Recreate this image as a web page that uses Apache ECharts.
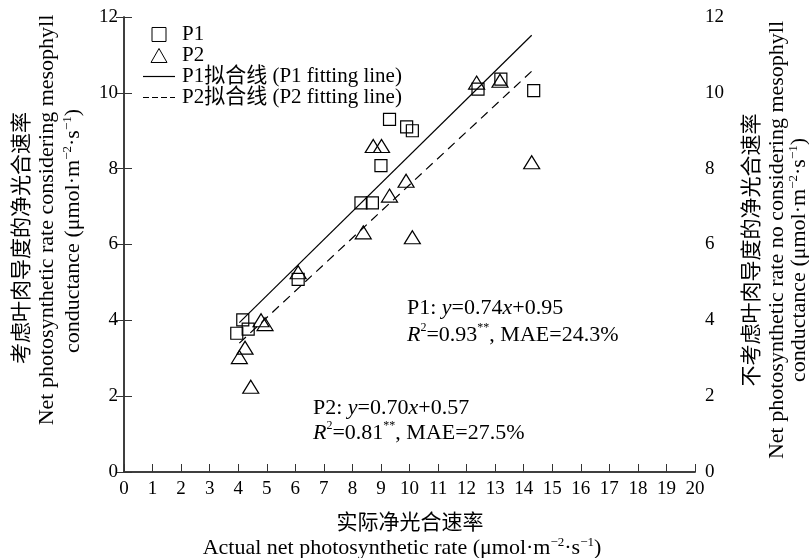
<!DOCTYPE html>
<html>
<head>
<meta charset="utf-8">
<script src="https://cdn.jsdelivr.net/npm/echarts@6/dist/echarts.min.js"></script>
<style>
  html, body { margin: 0; padding: 0; background: #fff; }
  #main { width: 809px; height: 558px; }
</style>
</head>
<body>
<div id="main"></div>
<script>
var p1X = [3.95, 4.16, 4.35, 6.1, 8.3, 8.7, 9.0, 9.3, 9.9, 10.1, 12.4, 13.2, 14.35];
var p1Y = [3.66, 4.01, 3.77, 5.08, 7.1, 7.1, 8.08, 9.3, 9.1, 9.0, 10.1, 10.36, 10.06];
var p2X = [4.04, 4.24, 4.44, 4.8, 4.94, 6.1, 8.38, 8.73, 9.02, 9.3, 9.88, 10.1, 12.35, 13.17, 14.28];
var p2Y = [3.03, 3.28, 2.25, 4.0, 3.9, 5.27, 6.32, 8.6, 8.6, 7.29, 7.68, 6.19, 10.27, 10.32, 8.17];
// 拟合线端点
var fit1X = [4.04, 14.28];
var fit1Y = [3.94, 11.52];
var fit2X = [4.04, 14.28];
var fit2Y = [3.40, 10.57];
var legendNames = ['P1', 'P2', 'P1拟合线 (P1 fitting line)', 'P2拟合线 (P2 fitting line)'];

function pairs(xs, ys) {
    var out = [];
    for (var i = 0; i < xs.length; i++) out.push([xs[i], ys[i]]);
    return out;
}

var serif = "'Liberation Serif', 'Times New Roman', 'Noto Sans CJK SC', serif";
var rich = {
    n: { fontSize: 22, fontFamily: serif, lineHeight: 26 },
    i: { fontSize: 22, fontFamily: serif, fontStyle: 'italic', lineHeight: 26 },
    s: { fontSize: 12, fontFamily: serif, verticalAlign: 'top', lineHeight: 12 },
    t: { fontSize: 22, fontFamily: serif, lineHeight: 24 },
    c: { fontSize: 21, fontFamily: serif, lineHeight: 24 },
    ts: { fontSize: 13, fontFamily: serif, verticalAlign: 'top', lineHeight: 13 }
};

function txt(x, y, text, rot, align) {
    return {
        type: 'text',
        x: x, y: y,
        rotation: rot || 0,
        style: {
            text: text, rich: rich, fill: '#000',
            align: align || 'center', verticalAlign: 'middle',
            fontFamily: serif, fontSize: 20
        }
    };
}

var axisCol = '#333';
var myChart = echarts.init(document.getElementById('main'));
var option = {
    animation: false,
    backgroundColor: '#fff',
    grid: { left: 124, right: 114, top: 17, bottom: 86 },
    legend: {
        orient: 'vertical',
        left: 138, top: 19,
        itemWidth: 32, itemHeight: 14, itemGap: 0,
        textStyle: { fontSize: 21, fontFamily: serif, color: '#000', padding: [0, 0, 0, 2] },
        data: [
            { name: legendNames[0], icon: 'path://M0,0H10V10H0Z', itemStyle: { color: '#fff', borderColor: '#000', borderWidth: 1 } },
            { name: legendNames[1], icon: 'path://M8,0L16,14L0,14Z', itemStyle: { color: '#fff', borderColor: '#000', borderWidth: 1 } },
            { name: legendNames[2], icon: 'path://M0,0H32V1.2H0Z', itemStyle: { color: '#000', borderWidth: 0 } },
            { name: legendNames[3], icon: 'path://M0,0H6V1.2H0Z M9,0H15V1.2H9Z M18,0H24V1.2H18Z M27,0H32V1.2H27Z', itemStyle: { color: '#000', borderWidth: 0 } }
        ]
    },
    xAxis: [{
        type: 'value', min: 0, max: 20, interval: 1,
        axisLine: { lineStyle: { color: axisCol, width: 1.5 } },
        axisTick: { inside: true, length: 8, lineStyle: { color: axisCol } },
        axisLabel: { fontSize: 19, fontFamily: serif, color: '#000', margin: 8 },
        splitLine: { show: false }
    }, {
        type: 'value', min: 0, max: 20, position: 'top',
        axisLine: { show: true, lineStyle: { color: axisCol, width: 1.5 } },
        axisTick: { show: false }, axisLabel: { show: false }, splitLine: { show: false }
    }],
    yAxis: [{
        type: 'value', min: 0, max: 12, interval: 2,
        axisLine: { show: true, lineStyle: { color: axisCol, width: 1.5 } },
        axisTick: { show: true, inside: true, length: 8, lineStyle: { color: axisCol } },
        axisLabel: { fontSize: 19, fontFamily: serif, color: '#000', margin: 6 },
        splitLine: { show: false }
    }, {
        type: 'value', min: 0, max: 12, interval: 2, position: 'right',
        axisLine: { show: true, lineStyle: { color: axisCol, width: 1.5 } },
        axisTick: { show: true, inside: true, length: 8, lineStyle: { color: axisCol } },
        axisLabel: { fontSize: 19, fontFamily: serif, color: '#000', margin: 10 },
        splitLine: { show: false }
    }],
    series: [{
        name: legendNames[2], type: 'line', data: pairs(fit1X, fit1Y),
        symbol: 'none', lineStyle: { color: '#000', width: 1.2 }, z: 2
    }, {
        name: legendNames[3], type: 'line', data: pairs(fit2X, fit2Y),
        symbol: 'none', lineStyle: { color: '#000', width: 1.2, type: [9, 6] }, z: 2
    }, {
        name: legendNames[0], type: 'scatter', data: pairs(p1X, p1Y),
        symbol: 'rect', symbolSize: 12,
        itemStyle: { color: 'transparent', borderColor: '#000', borderWidth: 1.2, opacity: 1 }, z: 3
    }, {
        name: legendNames[1], type: 'scatter', data: pairs(p2X, p2Y),
        symbol: 'triangle', symbolSize: [16, 13],
        itemStyle: { color: 'transparent', borderColor: '#000', borderWidth: 1.2, opacity: 1 }, z: 3
    }],
    graphic: [
        // 注释
        txt(407, 308, '{n|P1: }{i|y}{n|=0.74}{i|x}{n|+0.95}', 0, 'left'),
        txt(407, 335, '{i|R}{s|2}{n|=0.93}{s|**}{n|, MAE=24.3%}', 0, 'left'),
        txt(313, 408, '{n|P2: }{i|y}{n|=0.70}{i|x}{n|+0.57}', 0, 'left'),
        txt(313, 433, '{i|R}{s|2}{n|=0.81}{s|**}{n|, MAE=27.5%}', 0, 'left'),
        // x 轴标题
        txt(410, 523, '{c|实际净光合速率}'),
        txt(402, 548, '{t|Actual net photosynthetic rate (μmol·m}{ts|−2}{t|·s}{ts|−1}{t|)}'),
        // 左 y 轴标题
        txt(22, 238, '{c|考虑叶肉导度的净光合速率}', Math.PI / 2),
        txt(47, 220, '{t|Net photosynthetic rate considering mesophyll}', Math.PI / 2),
        txt(73, 231, '{t|conductance (μmol·m}{ts|−2}{t|·s}{ts|−1}{t|)}', Math.PI / 2),
        // 右 y 轴标题
        txt(752, 250, '{c|不考虑叶肉导度的净光合速率}', Math.PI / 2),
        txt(777, 240, '{t|Net photosynthetic rate no considering mesophyll}', Math.PI / 2),
        txt(799, 260, '{t|conductance (μmol·m}{ts|−2}{t|·s}{ts|−1}{t|)}', Math.PI / 2)
    ]
};
myChart.setOption(option);
</script>
</body>
</html>
